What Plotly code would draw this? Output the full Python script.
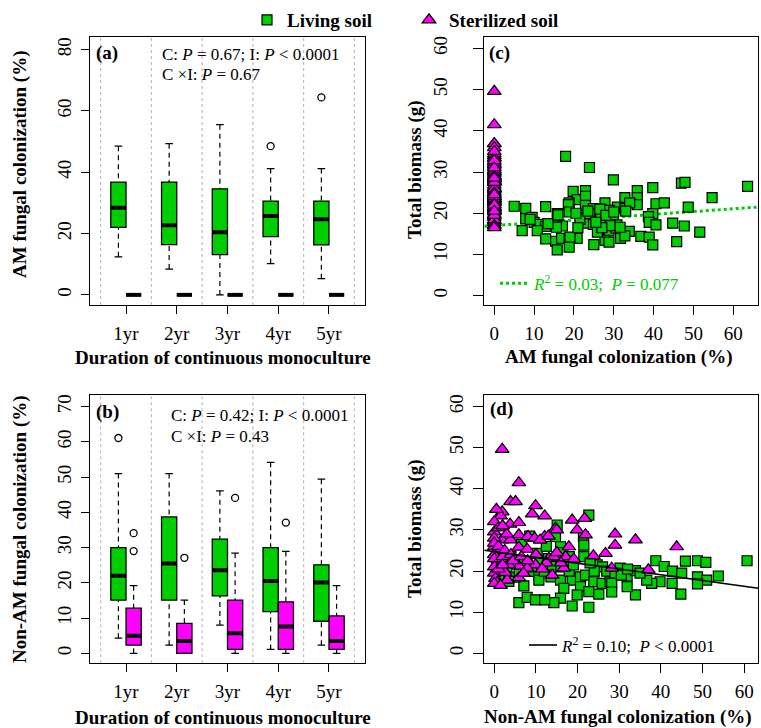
import plotly.graph_objects as go

# ---------------- data ----------------
years = ["1yr", "2yr", "3yr", "4yr", "5yr"]

# (a) AM fungal colonization (%) box statistics
a_liv_q1 = [22.0, 16.4, 13.1, 19.0, 16.3]
a_liv_med = [28.4, 22.7, 20.4, 25.7, 24.7]
a_liv_q3 = [36.8, 36.8, 34.6, 30.6, 30.6]
a_liv_lo = [12.4, 8.4, 0.0, 10.2, 5.3]
a_liv_hi = [48.5, 49.3, 55.5, 41.2, 41.2]
a_liv_out = [[], [], [], [48.5], [64.4]]
a_ste_q1 = [0.0, 0.0, 0.0, 0.0, 0.0]
a_ste_med = [0.0, 0.0, 0.0, 0.0, 0.0]
a_ste_q3 = [0.0, 0.0, 0.0, 0.0, 0.0]
a_ste_lo = [0.0, 0.0, 0.0, 0.0, 0.0]
a_ste_hi = [0.0, 0.0, 0.0, 0.0, 0.0]
a_ste_out = [[], [], [], [], []]

# (b) Non-AM fungal colonization (%) box statistics
b_liv_q1 = [15.1, 15.1, 16.3, 11.8, 9.1]
b_liv_med = [22.0, 25.5, 23.6, 20.5, 20.1]
b_liv_q3 = [30.0, 38.7, 32.4, 30.0, 25.1]
b_liv_lo = [4.3, 2.3, 8.0, 1.1, 2.3]
b_liv_hi = [51.0, 51.0, 46.1, 54.2, 49.4]
b_liv_out = [[61.1], [], [], [], []]
b_ste_q1 = [2.3, 0.0, 1.1, 1.1, 1.1]
b_ste_med = [5.0, 3.5, 5.7, 7.6, 3.5]
b_ste_q3 = [12.8, 8.5, 15.1, 14.6, 10.6]
b_ste_lo = [0.0, 0.0, 0.0, 0.0, 0.0]
b_ste_hi = [19.2, 15.1, 28.4, 28.9, 19.2]
b_ste_out = [[34.1, 29.0], [27.1], [44.1], [37.1], []]

# (c) living soil: AM colonization vs total biomass
c_liv_am = [17.9, 23.9, 29.9, 47.0, 47.9, 63.6, 39.8, 19.8, 22.9, 35.9, 32.8, 35.9, 54.7, 20.8, 18.8,
            22.9, 5.0, 7.9, 12.9, 18.6, 22.9, 27.8, 30.9, 32.8, 35.9, 40.6, 42.7, 48.7, 15.8, 18.8,
            7.9, 9.5, 21.7, 24.9, 26.9, 28.9, 39.8, 38.7, 10.0, 22.9, 26.0, 27.9, 29.9, 38.9, 11.2,
            12.9, 15.8, 17.1, 22.9, 24.9, 30.8, 40.6, 44.8, 47.7, 7.0, 10.8, 15.6, 26.1, 28.8, 30.6,
            33.9, 51.6, 12.9, 15.4, 16.9, 18.8, 20.8, 27.8, 31.7, 32.8, 36.8, 38.9, 45.8, 25.0, 18.8,
            15.8, 28.8, 39.8, 21.5, 24.0, 26.7, 29.1, 25.9, 31.6, 20.5, 23.5, 26.5, 19.0, 27.0, 13.5,
            9.0, 34.0, 28.0, 25.5, 30.0, 16.0, 33.0, 21.0]
c_liv_bio = [33.8, 31.1, 28.1, 27.3, 27.5, 26.5, 26.2, 25.3, 25.5, 25.5, 23.8, 23.8, 23.8, 23.3, 22.5,
             24.1, 21.7, 21.2, 21.6, 22.1, 21.9, 22.5, 21.5, 21.1, 22.1, 22.3, 22.5, 21.5, 19.9, 20.3,
             18.7, 19.0, 19.0, 21.1, 20.8, 20.7, 19.9, 19.2, 17.8, 18.2, 18.6, 18.6, 19.1, 17.8, 17.3,
             16.8, 17.0, 16.9, 17.6, 17.3, 17.2, 17.2, 17.6, 16.9, 15.8, 15.8, 16.6, 15.6, 15.7, 16.4,
             15.6, 15.4, 13.8, 13.2, 13.9, 13.9, 13.9, 13.4, 13.9, 14.5, 14.4, 14.2, 13.1, 12.4, 11.8,
             11.1, 13.0, 12.3, 18.5, 19.9, 18.7, 17.0, 15.4, 16.6, 20.0, 20.5, 21.0, 14.2, 16.5, 17.5,
             18.5, 22.5, 19.5, 17.8, 20.3, 19.6, 20.5, 16.5]

# sterilized soil: non-AM colonization vs total biomass (AM colonization is zero)
ste_nonam = [1.9, 5.9, 3.9, 5.1, 9.9, 9.1, 12.1, 1.9, 1.5, 0.0, 3.8, 5.9, 18.7, 21.7, 14.7, 19.9, 21.9,
             0.0, 5.9, 8.1, 9.7, 12.1, 15.0, 1.9, 3.9, 0.0, 0.7, 5.9, 7.9, 17.9, 23.8, 26.7, 13.1, 14.3,
             17.1, 19.1, 9.9, 5.9, 0.9, 3.5, 7.9, 13.9, 16.7, 0.0, 0.3, 0.7, 3.1, 5.9, 2.6, 29.0, 29.0,
             33.9, 43.8, 37.0, 28.2, 0.0, 0.0, 0.0, 0.0, 0.0, 0.0, 1.0, 1.0, 1.0, 2.0, 2.0, 2.5, 3.0,
             4.0, 4.5, 6.5, 8.0, 10.0, 11.0, 12.5, 13.0, 15.0, 16.0, 1.5, 2.0, 7.0, 11.5, 0.5]
ste_bio = [49.6, 41.5, 36.9, 36.9, 35.9, 33.9, 33.4, 34.4, 33.4, 32.0, 31.4, 31.8, 32.4, 32.8, 30.4, 30.0,
           28.8, 29.5, 28.8, 28.4, 28.0, 28.4, 30.0, 27.6, 27.6, 25.9, 24.7, 25.8, 25.3, 25.9, 23.7, 24.3,
           23.1, 23.5, 23.5, 22.9, 21.5, 21.2, 22.7, 21.5, 20.7, 19.0, 20.7, 19.5, 18.2, 17.2, 17.8, 18.4,
           19.7, 29.0, 26.3, 27.6, 25.9, 20.3, 20.7, 28.0, 26.8, 24.0, 23.0, 21.0, 17.0, 30.5, 26.0, 20.5,
           23.5, 21.5, 25.0, 29.0, 24.0, 22.5, 23.5, 22.5, 24.0, 27.5, 22.0, 28.5, 24.5, 22.0, 16.5, 31.0,
           19.5, 20.5, 35.0]
ste_am = [0.0] * len(ste_bio)

# (d) living soil: non-AM colonization vs total biomass
d_liv_nonam = [22.7, 15.1, 14.7, 21.4, 21.5, 21.5, 24.7, 28.3, 15.9, 10.3, 7.9, 8.7, 10.7, 13.6, 15.9,
               18.7, 20.7, 21.9, 23.9, 25.9, 27.8, 16.7, 20.7, 22.7, 25.1, 19.9, 15.9, 14.3, 18.7, 22.7,
               5.9, 7.9, 9.9, 12.1, 7.1, 10.7, 38.8, 45.9, 48.8, 50.8, 60.7, 40.8, 42.8, 45.0, 48.8,
               51.0, 53.8, 48.8, 42.7, 39.8, 37.8, 36.6, 44.8, 33.9, 31.9, 31.9, 33.9, 30.2, 28.2, 28.2,
               0.5, 1.0, 2.0, 3.0, 4.0, 5.0, 6.0, 1.5, 3.5, 7.0, 9.0, 11.0, 12.0, 13.0, 14.0, 16.0,
               17.0, 18.0, 19.0, 26.0, 27.0, 29.0, 30.5, 32.0, 35.0, 24.0, 23.0, 16.5, 12.5, 6.5, 8.5, 18.0]
d_liv_bio = [33.6, 31.2, 28.4, 28.4, 26.3, 23.5, 21.5, 19.9, 25.9, 24.3, 21.9, 19.9, 19.0, 18.6, 17.8,
             17.8, 18.6, 19.0, 17.4, 17.0, 17.4, 15.8, 16.2, 15.0, 14.4, 14.2, 13.4, 12.3, 11.5, 11.2,
             12.3, 13.6, 13.0, 13.0, 16.4, 17.8, 22.5, 22.4, 22.5, 22.1, 22.5, 21.1, 20.0, 19.5, 18.6,
             17.8, 18.8, 16.9, 17.0, 17.4, 17.0, 17.8, 14.4, 14.2, 16.2, 18.8, 20.1, 20.7, 17.0, 14.9,
             20.5, 22.0, 19.0, 21.0, 23.5, 18.5, 20.0, 24.5, 17.5, 22.5, 21.0, 22.5, 20.0, 23.0, 21.5, 21.0,
             22.5, 20.0, 21.5, 21.0, 20.0, 19.5, 19.0, 20.5, 19.5, 20.0, 22.0, 24.5, 26.0, 26.5, 28.5, 23.5]

# fitted regression lines (intercept, slope) and their reported statistics
c_fit = (17.0, 0.068)
d_fit = (24.7, -0.14)

GREEN = "#00CD00"
MAGENTA = "#FF00FF"
FONT = "Liberation Serif"
W, H = 761, 728


def px(x):
    return x / W


def py(y):
    return 1 - y / H


fig = go.Figure()

# ---------------- box panels ----------------
box_panels = [
    ("x", "y", [(a_liv_q1, a_liv_med, a_liv_q3, a_liv_lo, a_liv_hi, a_liv_out, GREEN, -0.15),
                (a_ste_q1, a_ste_med, a_ste_q3, a_ste_lo, a_ste_hi, a_ste_out, MAGENTA, 0.15)]),
    ("x2", "y2", [(b_liv_q1, b_liv_med, b_liv_q3, b_liv_lo, b_liv_hi, b_liv_out, GREEN, -0.15),
                  (b_ste_q1, b_ste_med, b_ste_q3, b_ste_lo, b_ste_hi, b_ste_out, MAGENTA, 0.15)]),
]
BW = 0.3
cat_pos = [i + 1 for i in range(len(years))]
for xa, ya, series in box_panels:
    # separators between years
    for k in range(len(years) + 1):
        fig.add_shape(type="line", xref=xa, yref=ya + " domain", x0=k + 0.5, x1=k + 0.5, y0=0, y1=1,
                      line=dict(color="#BEBEBE", width=1.2, dash="dot"), layer="below")
    for q1, med, q3, lo, hi, outs, col, off in series:
        pos = [p + off for p in cat_pos]
        wx, wy = [], []
        for p, a, b, l, h in zip(pos, q1, q3, lo, hi):
            wx += [p, p, None, p, p, None]
            wy += [h, b, None, l, a, None]
        fig.add_trace(go.Scatter(x=wx, y=wy, mode="lines", xaxis=xa, yaxis=ya, showlegend=False,
                                 line=dict(color="black", width=1.2, dash="5px,4px"), hoverinfo="skip"))
        fig.add_trace(go.Box(x=pos, q1=q1, median=med, q3=q3, lowerfence=q1, upperfence=q3,
                             width=BW, fillcolor=col, line=dict(color="black", width=1.3),
                             boxpoints=False, xaxis=xa, yaxis=ya, showlegend=False))
        mx, my, sx, sy = [], [], [], []
        for p, m, l, h in zip(pos, med, lo, hi):
            mx += [p - BW / 2, p + BW / 2, None]
            my += [m, m, None]
            sx += [p - BW / 4, p + BW / 4, None, p - BW / 4, p + BW / 4, None]
            sy += [l, l, None, h, h, None]
        fig.add_trace(go.Scatter(x=sx, y=sy, mode="lines", xaxis=xa, yaxis=ya, showlegend=False,
                                 line=dict(color="black", width=1.3), hoverinfo="skip"))
        fig.add_trace(go.Scatter(x=mx, y=my, mode="lines", xaxis=xa, yaxis=ya, showlegend=False,
                                 line=dict(color="black", width=4), hoverinfo="skip"))
        ox, oy = [], []
        for p, o in zip(pos, outs):
            ox += [p] * len(o)
            oy += o
        if ox:
            fig.add_trace(go.Scatter(x=ox, y=oy, mode="markers", xaxis=xa, yaxis=ya, showlegend=False,
                                     marker=dict(symbol="circle-open", size=7, color="black",
                                                 line=dict(width=1.3))))

# ---------------- scatter panels ----------------
sq = dict(symbol="square", size=10, color=GREEN, line=dict(color="black", width=1.2))
tri = dict(symbol="triangle-up", size=12, color=MAGENTA, line=dict(color="black", width=1.2))

c_xr = [-2.51, 66.3]
d_xr = [-2.4, 63.4]

fig.add_trace(go.Scatter(x=c_xr, y=[c_fit[0] + c_fit[1] * v for v in c_xr], mode="lines",
                         xaxis="x3", yaxis="y3", showlegend=False,
                         line=dict(color=GREEN, width=3, dash="dot")))
fig.add_trace(go.Scatter(x=c_liv_am, y=c_liv_bio, mode="markers", xaxis="x3", yaxis="y3",
                         marker=sq, name="<b>Living soil</b>", showlegend=True))
fig.add_trace(go.Scatter(x=ste_am, y=ste_bio, mode="markers", xaxis="x3", yaxis="y3",
                         marker=tri, name="<b>Sterilized soil</b>", showlegend=True))

fig.add_trace(go.Scatter(x=d_liv_nonam, y=d_liv_bio, mode="markers", xaxis="x4", yaxis="y4",
                         marker=sq, showlegend=False))
fig.add_trace(go.Scatter(x=ste_nonam, y=ste_bio, mode="markers", xaxis="x4", yaxis="y4",
                         marker=tri, showlegend=False))
fig.add_trace(go.Scatter(x=d_xr, y=[d_fit[0] + d_fit[1] * v for v in d_xr], mode="lines",
                         xaxis="x4", yaxis="y4", showlegend=False,
                         line=dict(color="black", width=1.6)))

# ---------------- axes ----------------
axcommon = dict(showline=True, mirror=True, linecolor="black", linewidth=1.3, ticks="outside",
                tickwidth=1.2, tickcolor="black", showgrid=False, zeroline=False,
                tickfont=dict(family=FONT, size=19, color="black"))
left_dom = [px(90), px(365)]
right_dom = [px(484.3), px(758.3)]
top_dom = [py(305), py(37.3)]
bot_dom = [py(663.3), py(395)]

fig.update_layout(
    xaxis=dict(domain=left_dom, range=[0.29, 5.71], tickvals=cat_pos, ticktext=years, anchor="y",
               ticklen=8, ticklabelstandoff=3, **axcommon),
    yaxis=dict(domain=top_dom, range=[-3.3, 84], tickvals=[0, 20, 40, 60, 80], tickangle=-90,
               anchor="x", ticklen=8, ticklabelstandoff=2, **axcommon),
    xaxis2=dict(domain=left_dom, range=[0.29, 5.71], tickvals=cat_pos, ticktext=years, anchor="y2",
                ticklen=8, ticklabelstandoff=3, **axcommon),
    yaxis2=dict(domain=bot_dom, range=[-2.84, 73.3], tickvals=[0, 10, 20, 30, 40, 50, 60, 70],
                tickangle=-90, anchor="x2", ticklen=8, ticklabelstandoff=2, **axcommon),
    xaxis3=dict(domain=right_dom, range=c_xr, tickvals=[0, 10, 20, 30, 40, 50, 60], anchor="y3",
                ticklen=9, ticklabelstandoff=2, **axcommon),
    yaxis3=dict(domain=top_dom, range=[-2.27, 62.7], tickvals=[0, 10, 20, 30, 40, 50, 60],
                tickangle=-90, anchor="x3", ticklen=10, ticklabelstandoff=19, **axcommon),
    xaxis4=dict(domain=right_dom, range=d_xr, tickvals=[0, 10, 20, 30, 40, 50, 60], anchor="y4",
                ticklen=9, ticklabelstandoff=2, **axcommon),
    yaxis4=dict(domain=bot_dom, range=[-2.43, 62.8], tickvals=[0, 10, 20, 30, 40, 50, 60],
                tickangle=-90, anchor="x4", ticklen=10, ticklabelstandoff=3, **axcommon),
)

# ---------------- text ----------------
ann = []


def text(x, y, s, size=19, color="black", xanchor="left", angle=0):
    ann.append(dict(x=px(x), y=py(y), xref="paper", yref="paper", text=s, showarrow=False,
                    xanchor=xanchor, yanchor="middle", textangle=angle,
                    font=dict(family=FONT, size=size, color=color)))


text(94, 52.7, "<b>(a)</b>")
text(94, 411.7, "<b>(b)</b>")
text(487, 52.7, "<b>(c)</b>")
text(488, 409.3, "<b>(d)</b>")
text(160, 54.3, "C: <i>P</i> = 0.67; I: <i>P</i> &lt; 0.0001", size=17)
text(160, 75, "C \u00d7I: <i>P</i> = 0.67", size=17)
text(169, 415, "C: <i>P</i> = 0.42; I: <i>P</i> &lt; 0.0001", size=17)
text(169, 436.7, "C \u00d7I: <i>P</i> = 0.43", size=17)

text(222.5, 357, "<b>Duration of continuous monoculture</b>", xanchor="center")
text(222.5, 717, "<b>Duration of continuous monoculture</b>", xanchor="center")
text(618, 357, "<b>AM fungal colonization (%)</b>", xanchor="center")
text(618, 717, "<b>Non-AM fungal colonization (%)</b>", xanchor="center")
text(20, 165, "<b>AM fungal colonization (%)</b>", xanchor="center", angle=-90)
text(20, 529, "<b>Non-AM fungal colonization (%)</b>", xanchor="center", angle=-90)
text(415, 170, "<b>Total biomass (g)</b>", xanchor="center", angle=-90)
text(415, 529, "<b>Total biomass (g)</b>", xanchor="center", angle=-90)

text(531, 283.3, "<i>R</i><sup>2</sup> = 0.03;\u00a0 <i>P</i> = 0.077", size=17, color=GREEN)
text(559, 645, "<i>R</i><sup>2</sup> = 0.10;\u00a0 <i>P</i> &lt; 0.0001", size=17)

shapes = [
    dict(type="line", xref="paper", yref="paper", x0=px(500), x1=px(528), y0=py(283.3), y1=py(283.3),
         line=dict(color=GREEN, width=3, dash="dot")),
    dict(type="line", xref="paper", yref="paper", x0=px(529), x1=px(557), y0=py(645), y1=py(645),
         line=dict(color="black", width=1.6)),
]
for s in shapes:
    fig.add_shape(**s)

fig.update_layout(
    annotations=ann,
    width=W, height=H, margin=dict(l=0, r=0, t=0, b=0),
    paper_bgcolor="white", plot_bgcolor="white",
    boxmode="overlay",
    showlegend=True,
    legend=dict(orientation="h", x=px(247), y=py(1), xanchor="left", yanchor="top",
                font=dict(family=FONT, size=19, color="black"), bgcolor="rgba(0,0,0,0)",
                entrywidth=117, entrywidthmode="pixels", itemsizing="trace"),
)

fig.write_html("out.html", config={"displayModeBar": False},
               post_script="document.body.style.margin='0';")
